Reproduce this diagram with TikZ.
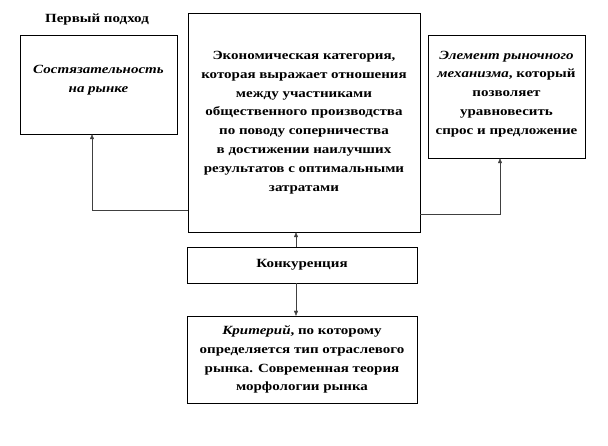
\documentclass[tikz,border=0pt]{standalone}
\usepackage{fontspec}
\setmainfont{Liberation Serif}
\usepackage{tikz}
\usetikzlibrary{arrows.meta}
\usetikzlibrary{calc, positioning}
\tikzset{%
    box/.style={
		draw, thin, rectangle,
		align=center,
		inner sep=0pt
	}
}
\tikzset{link/.style={draw=black!75, -{Triangle[length=5pt,width=4pt]}}}

\begin{document}
\begin{tikzpicture}[x=1pt, y=-1pt]
		% Default action for each node: wide bold face
		\tikzstyle{every node}=[font=\bfseries\fontsize{12.5}{18.8}\selectfont, xscale=1.2, transform shape];

		\useasboundingbox (0,0) rectangle (608,446);

		% centres of the boxes
		\coordinate (ptitle) at (97,20);
		\coordinate (pcompet) at (98.5,84.5);
		\coordinate (pecon) at (304,122.5);
		\coordinate (pmarket) at (506.5,96.5);
		\coordinate (pkonk) at (302,265);
		\coordinate (pcrit) at (302,359.5);

		\node (title) at (ptitle) {Первый подход};
		\node[box, minimum width=130.8pt, minimum height=99pt, text depth=11pt] (compet) at (pcompet) {\textit{Состязательность}\\\textit{на рынке}};
		\node[box, minimum width=193.3pt, minimum height=219pt] (econ) at (pecon) {Экономическая категория,\\которая выражает отношения\\между участниками\\общественного производства\\по поводу соперничества\\в достижении наилучших\\результатов с оптимальными\\затратами};
		\node[box, minimum width=130.8pt, minimum height=123pt, text depth=8pt] (market) at (pmarket) {\textit{Элемент рыночного}\\\textit{механизма}, который\\позволяет\\уравновесить\\спрос и предложение};
		\node[box, minimum width=191.7pt, minimum height=36pt] (konk) at (pkonk) {Конкуренция};
		\node[box, minimum width=191.7pt, minimum height=87pt] (crit) at (pcrit) {\textit{Критерий}, по которому\\определяется тип отраслевого\\рынка. Современная теория\\морфологии рынка};

		\coordinate (lbend) at (92,210);
		\coordinate (rbend) at (500,214);
		\coordinate (axis) at (296,0);

		\draw[link] (lbend -| econ.west) -- (lbend) -- (lbend |- compet.south);
		\draw[link] (rbend -| econ.east) -- (rbend) -- (rbend |- market.south);

		\draw[link] (konk.north -| axis) -- (econ.south -| axis);
		\draw[link] (konk.south -| axis) -- (crit.north -| axis);

	\end{tikzpicture}
\end{document}
